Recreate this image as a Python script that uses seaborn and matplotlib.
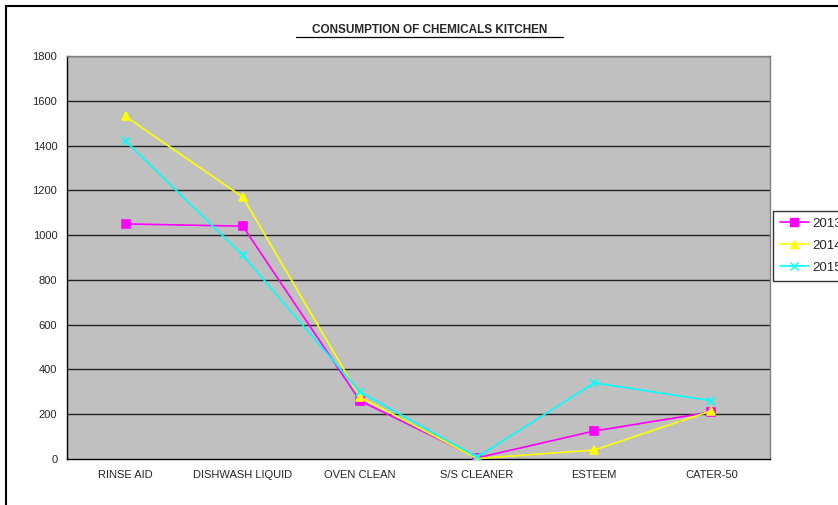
import matplotlib
matplotlib.use('Agg')
import matplotlib.pyplot as plt
import seaborn as sns
import pandas as pd
import numpy as np
from matplotlib.patches import Rectangle

# ── Data ──────────────────────────────────────────────────────────────────────
CATEGORIES = ['RINSE AID', 'DISHWASH LIQUID', 'OVEN CLEAN', 'S/S CLEANER', 'ESTEEM', 'CATER-50']
YEARS      = ['2013', '2014', '2015']
V_2013     = [1050, 1040, 260, 5, 125, 210]
V_2014     = [1530, 1170, 277, 2, 40, 215]
V_2015     = [1420, 910, 300, 8, 340, 260]
Y_TICKS    = [0, 200, 400, 600, 800, 1000, 1200, 1400, 1600, 1800]

COLORS  = {'2013': '#FF00FF', '2014': '#FFFF00', '2015': '#00FFFF'}
MARKERS = {'2013': 's', '2014': '^', '2015': 'x'}

rows = []
for year, vals in zip(YEARS, [V_2013, V_2014, V_2015]):
    for i, (cat, v) in enumerate(zip(CATEGORIES, vals)):
        rows.append({'pos': i, 'cat': cat, 'year': year, 'value': v})
df = pd.DataFrame(rows)

# ── Plot ──────────────────────────────────────────────────────────────────────
sns.set_style('white')
plt.rcParams['font.family'] = ['Liberation Sans', 'DejaVu Sans']

fig = plt.figure(figsize=(8.38, 5.05), dpi=100)
ax = fig.add_axes([67/838, 46/505, (770-67)/838, (459-56)/505])
ax.set_facecolor('#C0C0C0')

for y in YEARS:
    sub = df[df['year'] == y]
    sns.lineplot(data=sub, x='pos', y='value', color=COLORS[y], marker=MARKERS[y],
                 linewidth=1.2, markersize=6, markeredgewidth=1.2,
                 markerfacecolor=COLORS[y], markeredgecolor=COLORS[y],
                 ax=ax, sort=False, zorder=3)

ax.set_ylim(0, 1800)
ax.set_xlim(-0.5, len(CATEGORIES) - 0.5)
ax.set_yticks(Y_TICKS)
ax.set_yticklabels([str(t) for t in Y_TICKS], fontsize=8)
ax.set_xticks(range(len(CATEGORIES)))
ax.set_xticklabels(CATEGORIES, fontsize=8)
ax.set_xticks(np.arange(-0.5, len(CATEGORIES)), minor=True)
ax.tick_params(axis='x', which='major', length=0, pad=8)
ax.tick_params(axis='x', which='minor', length=4, width=1, color='black', direction='out')
ax.tick_params(axis='y', length=4, width=1, color='black', direction='out', pad=3)
ax.set_xlabel('')
ax.set_ylabel('')

for t in Y_TICKS[1:]:
    ax.axhline(t, color='#222222', lw=1, zorder=0.5)

for side in ['top', 'right']:
    ax.spines[side].set_color('#808080')
    ax.spines[side].set_linewidth(1)
for side in ['left', 'bottom']:
    ax.spines[side].set_color('black')
    ax.spines[side].set_linewidth(1)

fig.text(430/838, 1 - 30/505, 'CONSUMPTION OF CHEMICALS KITCHEN', ha='center', va='center',
         fontsize=8.5, fontweight='bold')
fig.add_artist(plt.Line2D([296/838, 563/838], [1 - 37/505, 1 - 37/505], color='black', lw=0.9))

# outer chart frame (cut off on right/bottom)
fig.add_artist(Rectangle((6/838, -0.1), 1.2, 1 - 6/505 + 0.1, transform=fig.transFigure,
                         fill=False, edgecolor='black', lw=1.5))

handles = [plt.Line2D([], [], color=COLORS[y], marker=MARKERS[y], markersize=6,
                      markerfacecolor=COLORS[y], markeredgecolor=COLORS[y], lw=1.2)
           for y in YEARS]
leg = fig.legend(handles, YEARS, loc='upper left', bbox_to_anchor=(773/838, 1 - 211/505),
                 fontsize=9.5, frameon=True, fancybox=False, edgecolor='black',
                 borderaxespad=0, handlelength=2.2, borderpad=0.5, labelspacing=0.75,
                 handletextpad=0.25)
leg.get_frame().set_linewidth(1)

fig.savefig('out.png', dpi=100, facecolor='white')
